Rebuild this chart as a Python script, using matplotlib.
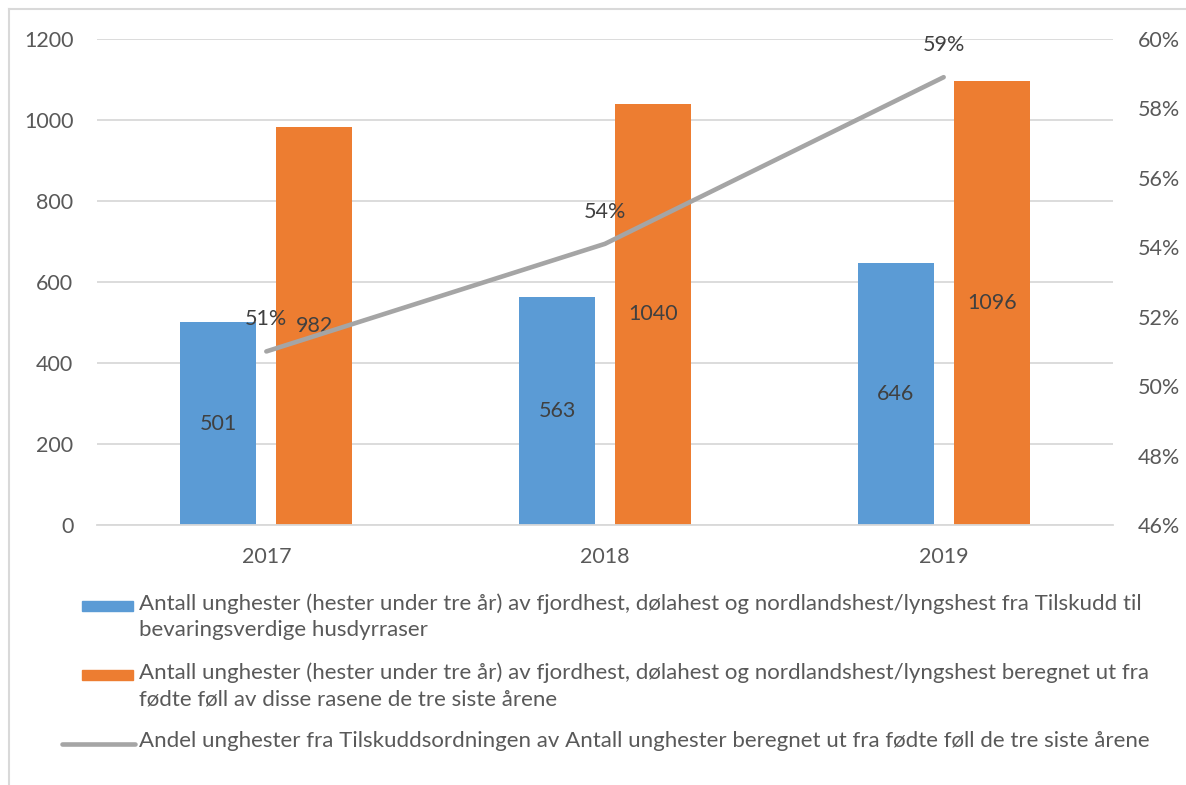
import matplotlib.pyplot as plt
from matplotlib.lines import Line2D
from matplotlib.patches import Rectangle

years = ["2017", "2018", "2019"]
tilskudd = [501, 563, 646]
beregnet = [982, 1040, 1096]
andel = [0.510, 0.541, 0.589]
series_names = [
    "Antall unghester (hester under tre år) av fjordhest, dølahest og nordlandshest/lyngshest fra Tilskudd til\nbevaringsverdige husdyrraser",
    "Antall unghester (hester under tre år) av fjordhest, dølahest og nordlandshest/lyngshest beregnet ut fra\nfødte føll av disse rasene de tre siste årene",
    "Andel unghester fra Tilskuddsordningen av Antall unghester beregnet ut fra fødte føll de tre siste årene",
]

blue = "#5B9BD5"
orange = "#ED7D31"
gray = "#A5A5A5"
txt = "#595959"
grid = "#D9D9D9"

plt.rcParams["font.family"] = ["Lato", "DejaVu Sans"]

W, H = 1186, 785
fig = plt.figure(figsize=(W / 100, H / 100), dpi=100)

# chart border (only top and left are inside the picture)
fig.add_artist(Line2D([9 / W, 1], [1 - 9 / H, 1 - 9 / H], color=grid, lw=1.5))
fig.add_artist(Line2D([9 / W, 9 / W], [0, 1 - 9 / H], color=grid, lw=1.5))

ax = fig.add_axes([97 / W, 1 - 525 / H, (1113 - 97) / W, (525 - 39) / H])
x = range(len(years))
off, bw = 0.1416, 0.224
b1 = ax.bar([i - off for i in x], tilskudd, bw, color=blue, zorder=2)
b2 = ax.bar([i + off for i in x], beregnet, bw, color=orange, zorder=2)
for bars in (b1, b2):
    for r in bars:
        ax.text(r.get_x() + r.get_width() / 2, r.get_height() / 2, str(int(r.get_height())),
                ha="center", va="center", fontsize=15.5, color="#404040", zorder=5)

ax.set_xlim(-0.5, 2.5)
ax.set_ylim(0, 1200)
ax.set_yticks(range(0, 1201, 200))
ax.set_xticks(list(x))
ax.set_xticklabels(years)
ax.grid(axis="y", color=grid, lw=1.3, zorder=0)
for s in ["top", "left", "right"]:
    ax.spines[s].set_visible(False)
ax.spines["bottom"].set_color(grid)
ax.spines["bottom"].set_linewidth(1.3)
ax.tick_params(length=0, labelsize=15.5, colors=txt)
ax.tick_params(axis="y", pad=17)
ax.tick_params(axis="x", pad=16)

ax2 = ax.twinx()
ax2.plot(list(x), andel, color=gray, lw=3.3, solid_capstyle="round", zorder=4)
for i, v in zip(x, andel):
    ax2.annotate(f"{v * 100:.0f}%", (i, v), xytext=(0, 16), textcoords="offset points",
                 ha="center", va="bottom", fontsize=15.5, color="#404040")
ax2.set_ylim(0.46, 0.60)
ax2.set_yticks([0.46 + 0.02 * k for k in range(8)])
ax2.set_yticklabels([f"{46 + 2 * k}%" for k in range(8)])
ax2.tick_params(length=0, labelsize=15.5, colors=txt, pad=18)
for s in ax2.spines.values():
    s.set_visible(False)

# legend
fig.add_artist(Rectangle((82 / W, 1 - 611 / H), 51 / W, 10 / H, color=blue))
fig.add_artist(Rectangle((82 / W, 1 - 680 / H), 51 / W, 10 / H, color=orange))
fig.add_artist(Line2D([62 / W, 135 / W], [1 - 744 / H, 1 - 744 / H], color=gray, lw=3.3,
                      solid_capstyle="round"))
for name, yy in zip(series_names, [606, 675, 744]):
    fig.text(139 / W, 1 - (yy - 13) / H, name, ha="left", va="top", fontsize=16,
             color=txt, linespacing=1.42)

fig.savefig("out.png", dpi=100)
